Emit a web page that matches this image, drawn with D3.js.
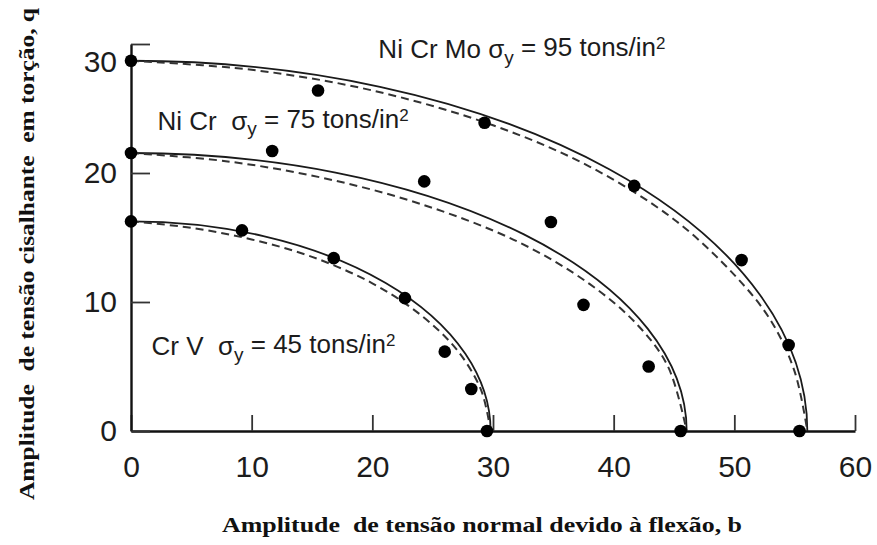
<!DOCTYPE html>
<html>
<head>
<meta charset="utf-8">
<script src="https://cdn.jsdelivr.net/npm/d3@7"></script>
<style>
  body { margin: 0; background: #fff; }
  svg text { white-space: pre; }
</style>
</head>
<body>
<svg id="chart" width="877" height="545"></svg>
<script>

/////////////////////
// Data
/////////////////////

var xTicks = [0, 10, 20, 30, 40, 50, 60];
var yTicks = [0, 10, 20, 30];

var steels = ["Cr V", "Ni Cr", "Ni Cr Mo"];
var yieldStress = [45, 75, 95];

// intercepts of the solid ellipse quadrant
var limitB = [29.8, 46.05, 56.05];
var limitQ = [16.25, 21.55, 28.7];

// test points
var pointsB = [[0, 9.2, 16.8, 22.7, 26.0, 28.2, 29.5],
               [0, 11.7, 24.3, 34.8, 37.5, 42.9, 45.55],
               [0, 15.5, 29.3, 41.7, 50.6, 54.5, 55.4]];
var pointsQ = [[16.25, 15.55, 13.4, 10.3, 6.15, 3.26, 0],
               [21.55, 21.7, 19.35, 16.2, 9.78, 5.0, 0],
               [28.7, 26.4, 23.9, 19.0, 13.25, 6.67, 0]];

// dashed curve
var dashB = [[0, 5, 10, 15, 20, 24, 27, 29, 29.8],
             [0, 8, 16, 24, 32, 38, 42, 44.5, 46.05],
             [0, 10, 20, 30, 38, 45, 50, 53, 55, 56.05]];
var dashQ = [[16.25, 15.75, 14.85, 13.5, 11.45, 9.0, 6.3, 3.2, 0],
             [21.55, 20.9, 19.6, 17.6, 14.7, 11.4, 8.2, 5.0, 0],
             [28.7, 28.0, 26.4, 23.7, 20.5, 16.4, 12.1, 8.6, 4.6, 0]];

// where the steel labels sit, in data units
var labelB = [1.7, 2.2, 20.5];
var labelQ = [5.9, 23.35, 28.9];
var labelGap = ["  ", "  ", " "];

/////////////////////
// Scales and axes
/////////////////////

var svg = d3.select("#chart");

var x = d3.scaleLinear().domain([0, 60]).range([131, 855]);
var y = d3.scaleLinear().domain([0, 30]).range([431, 44]);

var xAxis = svg.append("g")
    .attr("transform", "translate(0," + y(0) + ")")
    .call(d3.axisBottom(x).tickValues(xTicks).tickSize(-16).tickSizeOuter(0).tickPadding(25));

var yAxis = svg.append("g")
    .attr("transform", "translate(" + x(0) + ",0)")
    .call(d3.axisLeft(y).tickValues(yTicks).tickSize(-19).tickSizeOuter(0).tickPadding(14));

svg.selectAll(".domain")
    .attr("stroke", "#111")
    .attr("stroke-width", 2.4);
svg.selectAll(".tick line")
    .attr("stroke", "#333")
    .attr("stroke-width", 1.8);
svg.selectAll(".tick text")
    .attr("fill", "#1c1c1c")
    .style("font-family", "'Liberation Sans', Arial, sans-serif")
    .style("font-size", "30px");

// the "30" label sits beside the top point in the original, below its tick
yAxis.selectAll(".tick text")
    .filter(function(d) { return d === 30; })
    .attr("dy", "0.9em");

/////////////////////
// Curves
/////////////////////

var dashLine = d3.line()
    .x(function(d) { return x(d[0]); })
    .y(function(d) { return y(d[1]); })
    .curve(d3.curveCatmullRom.alpha(0.5));

steels.forEach(function(s, i) {
    var rx = x(limitB[i]) - x(0);
    var ry = y(0) - y(limitQ[i]);
    svg.append("path")
        .attr("d", "M" + x(0) + "," + y(limitQ[i]) +
                   "A" + rx + "," + ry + " 0 0 1 " + x(limitB[i]) + "," + y(0))
        .attr("fill", "none")
        .attr("stroke", "#1a1a1a")
        .attr("stroke-width", 1.8);

    svg.append("path")
        .datum(d3.zip(dashB[i], dashQ[i]))
        .attr("d", dashLine)
        .attr("fill", "none")
        .attr("stroke", "#333")
        .attr("stroke-width", 2)
        .attr("stroke-dasharray", "8,5");
});

/////////////////////
// Points
/////////////////////

steels.forEach(function(s, i) {
    svg.append("g").selectAll("circle")
        .data(d3.zip(pointsB[i], pointsQ[i]))
      .enter().append("circle")
        .attr("cx", function(d) { return x(d[0]); })
        .attr("cy", function(d) { return y(d[1]); })
        .attr("r", 6.3)
        .attr("fill", "#000");
});

/////////////////////
// Steel labels
/////////////////////

steels.forEach(function(s, i) {
    var t = svg.append("text")
        .attr("x", x(labelB[i]))
        .attr("y", y(labelQ[i]))
        .attr("fill", "#1c1c1c")
        .style("font-family", "'Liberation Sans', Arial, sans-serif")
        .style("font-size", "26px");
    t.append("tspan").text(s + labelGap[i] + "\u03c3");
    t.append("tspan").attr("dy", "0.3em").style("font-size", "19px").text("y");
    t.append("tspan").attr("dy", "-0.3em").text(" = " + yieldStress[i] + " tons/in");
    t.append("tspan").attr("dy", "-0.4em").style("font-size", "17px").text("2");
});

/////////////////////
// Axis titles
/////////////////////

svg.append("text")
    .attr("x", 482)
    .attr("y", 532)
    .attr("text-anchor", "middle")
    .attr("textLength", 520)
    .attr("lengthAdjust", "spacingAndGlyphs")
    .attr("fill", "#111")
    .style("font-family", "'Liberation Serif', 'Times New Roman', serif")
    .style("font-weight", "bold")
    .style("font-size", "22px")
    .text("Amplitude  de tensão normal devido à flexão, b");

svg.append("text")
    .attr("transform", "translate(34,254) rotate(-90)")
    .attr("text-anchor", "middle")
    .attr("textLength", 492)
    .attr("lengthAdjust", "spacingAndGlyphs")
    .attr("fill", "#111")
    .style("font-family", "'Liberation Serif', 'Times New Roman', serif")
    .style("font-weight", "bold")
    .style("font-size", "22px")
    .text("Amplitude  de tensão cisalhante  em torção, q");

</script>
</body>
</html>
